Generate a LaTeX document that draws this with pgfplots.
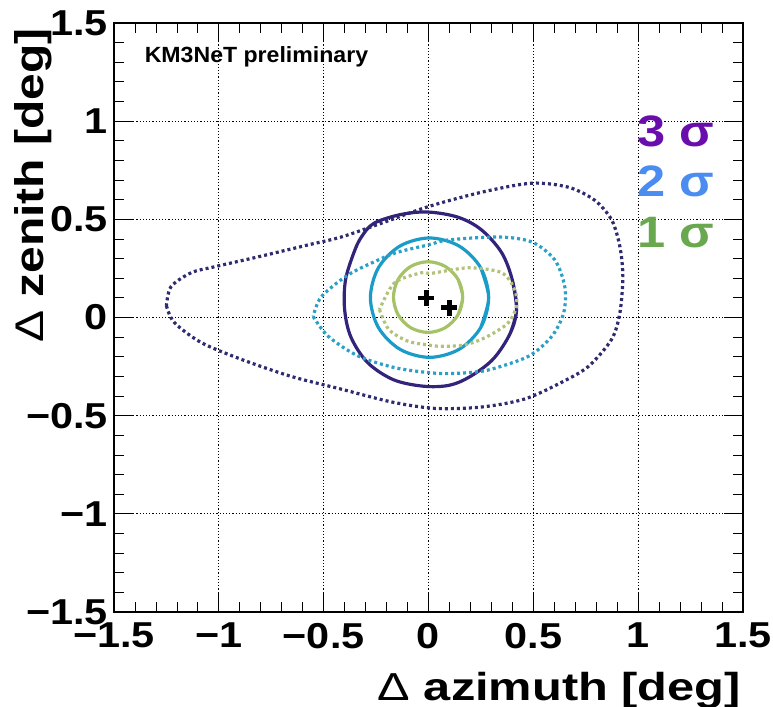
\documentclass[border=0pt]{standalone}
\usepackage{pgfplots}
\pgfplotsset{compat=1.18}
\usepackage{fontspec}
\setmainfont{Liberation Sans}
\newfontfamily\tickfont{Liberation Sans}[FakeStretch=1.15]
\newfontfamily\titlefont{Liberation Sans}[FakeStretch=1.25]
\newfontfamily\ytitlefont{Liberation Sans}[FakeStretch=1.2]
\newfontfamily\sigfont{Liberation Sans}[FakeStretch=1.15]
\newfontfamily\prelimfont{Liberation Sans}[FakeStretch=1.05]

\definecolor{cnavy}{HTML}{33237A}
\definecolor{ccyan}{HTML}{1A9BC8}
\definecolor{cgreen}{HTML}{A6C266}
\definecolor{dnavy}{HTML}{2E2B70}
\definecolor{dcyan}{HTML}{2AA0C6}
\definecolor{dgreen}{HTML}{B2C27A}
\definecolor{sig3}{HTML}{6A0DAD}
\definecolor{sig2}{HTML}{4A8CF0}
\definecolor{sig1}{HTML}{6AA84F}

\begin{document}
\begin{tikzpicture}
\path[use as bounding box] (0,0) rectangle (773bp,707bp);
\begin{axis}[
  name=ax, at={(114bp,95bp)}, anchor=south west,
  scale only axis, width=629bp, height=589bp,
  xmin=-1.5, xmax=1.5, ymin=-1.5, ymax=1.5,
  xtick={-1.5,-1,-0.5,0,0.5,1,1.5},
  ytick={-1.5,-1,-0.5,0,0.5,1,1.5},
  xticklabels={−1.5,−1,−0.5,0,0.5,1,1.5},
  yticklabels={−1.5,−1,−0.5,0,0.5,1,1.5},
  minor x tick num=4, minor y tick num=4,
  xtick pos=both, ytick pos=both,
  xticklabel pos=bottom, yticklabel pos=left,
  tick align=inside,
  major tick length=19bp, minor tick length=10bp,
  tick style={black, line width=0.8bp},
  axis line style={black, line width=1.2bp},
  grid=major,
  major grid style={black, line width=0.8bp, dash pattern=on 1.2bp off 2bp},
  xticklabel style={font=\tickfont\bfseries\fontsize{36bp}{40bp}\selectfont,
    inner sep=0pt, anchor=north, yshift=-11bp},
  yticklabel style={font=\tickfont\bfseries\fontsize{36bp}{40bp}\selectfont,
    inner sep=0pt, anchor=east, xshift=-6bp},
]

% 3 sigma, solid
\addplot[cnavy, line width=3.2bp, smooth, tension=0.55] coordinates {
  (0.39,-0.08) (0.42,0.04) (0.40,0.19) (0.349,0.33) (0.253,0.446) (0.143,0.51)
  (0.0,0.537) (-0.13,0.525) (-0.26,0.48) (-0.32,0.41) (-0.356,0.33) (-0.396,0.19)
  (-0.40,0.04) (-0.37,-0.10) (-0.29,-0.23) (-0.167,-0.317) (-0.024,-0.35)
  (0.10,-0.345) (0.20,-0.30) (0.31,-0.21) (0.39,-0.08) (0.42,0.04) (0.40,0.19)
};
% 2 sigma, solid
\addplot[ccyan, line width=3.2bp, smooth, tension=0.55] coordinates {
  (0.249,-0.051) (0.287,0.101) (0.249,0.253) (0.146,0.364) (0.005,0.405)
  (-0.136,0.364) (-0.239,0.253) (-0.277,0.101) (-0.239,-0.051) (-0.136,-0.162)
  (0.005,-0.203) (0.146,-0.162) (0.249,-0.051) (0.287,0.101) (0.249,0.253)
};
% 1 sigma, solid
\addplot[cgreen, line width=3.2bp, smooth, tension=0.55] coordinates {
  (0.141,0.014) (0.163,0.104) (0.141,0.194) (0.080,0.260) (-0.002,0.284)
  (-0.085,0.260) (-0.145,0.194) (-0.167,0.104) (-0.145,0.014) (-0.085,-0.052)
  (-0.002,-0.076) (0.080,-0.052) (0.141,0.014) (0.163,0.104) (0.141,0.194)
};

% 3 sigma, dotted
\addplot[dnavy, line width=3.2bp, dash pattern=on 3bp off 3bp, smooth, tension=0.5] coordinates {
  (-1.25,0.06) (-1.213,-0.025) (-1.085,-0.127) (-0.893,-0.213) (-0.655,-0.30)
  (-0.416,-0.365) (-0.177,-0.43) (0.03,-0.463) (0.253,-0.456) (0.459,-0.415)
  (0.635,-0.33) (0.764,-0.248) (0.874,-0.11) (0.913,0.025) (0.927,0.208)
  (0.913,0.36) (0.874,0.496) (0.793,0.597) (0.669,0.663) (0.492,0.684)
  (0.253,0.638) (0.0,0.565) (-0.225,0.48) (-0.416,0.41) (-0.573,0.370)
  (-0.812,0.309) (-1.022,0.258) (-1.132,0.228) (-1.228,0.157) (-1.25,0.06)
};
% 2 sigma, dotted
\addplot[dcyan, line width=3.2bp, dash pattern=on 3bp off 3bp, smooth, tension=0.5] coordinates {
  (-0.55,0.005) (-0.478,-0.096) (-0.334,-0.197) (-0.15,-0.258) (0.05,-0.285)
  (0.20,-0.28) (0.301,-0.263) (0.478,-0.197) (0.588,-0.096) (0.645,0.025)
  (0.65,0.157) (0.602,0.294) (0.492,0.385) (0.334,0.41) (0.096,0.395)
  (0.0,0.37) (-0.143,0.334) (-0.225,0.30) (-0.382,0.218) (-0.511,0.106) (-0.55,0.005)
};
% 1 sigma, dotted
\addplot[dgreen, line width=3.2bp, dash pattern=on 3bp off 3bp, smooth, tension=0.5] coordinates {
  (-0.234,0.04) (-0.19,-0.06) (-0.10,-0.12) (0.0,-0.14) (0.062,-0.147)
  (0.17,-0.14) (0.253,-0.111) (0.325,-0.07) (0.382,-0.025) (0.42,0.056)
  (0.411,0.142) (0.349,0.228) (0.191,0.253) (0.014,0.225) (-0.033,0.228)
  (-0.162,0.177) (-0.234,0.04)
};

% best-fit positions
\addplot[only marks, mark=+, mark size=8bp, mark options={black, line width=4.5bp}]
  coordinates {(-0.01,0.10) (0.10,0.05)};

\node[anchor=base west, inner sep=0pt, text=sig3,
  font=\sigfont\bfseries\fontsize{44bp}{48bp}\selectfont] at (axis cs:0.994,0.869) {3 σ};
\node[anchor=base west, inner sep=0pt, text=sig2,
  font=\sigfont\bfseries\fontsize{44bp}{48bp}\selectfont] at (axis cs:0.994,0.614) {2 σ};
\node[anchor=base west, inner sep=0pt, text=sig1,
  font=\sigfont\bfseries\fontsize{44bp}{48bp}\selectfont] at (axis cs:0.994,0.357) {1 σ};

\node[anchor=base west, inner sep=0pt,
  font=\prelimfont\bfseries\fontsize{22bp}{26bp}\selectfont] at (axis cs:-1.354,1.299) {KM3NeT preliminary};
\end{axis}

\node[anchor=base east, inner sep=0pt, font=\titlefont\fontsize{39bp}{43bp}\selectfont]
  at ([xshift=-2bp,yshift=-88bp]ax.south east) {Δ \bfseries azimuth [deg]};
\node[anchor=south east, rotate=90, inner sep=0pt, font=\ytitlefont\fontsize{40bp}{44bp}\selectfont]
  at ([xshift=-62bp,yshift=-5bp]ax.north west) {Δ \bfseries zenith [deg]};
\end{tikzpicture}
\end{document}
